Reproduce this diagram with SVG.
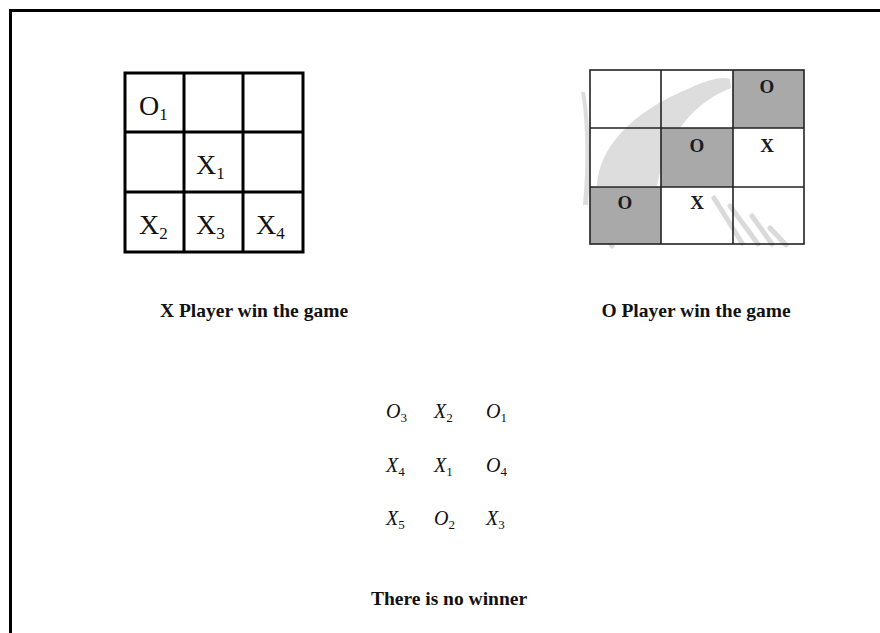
<svg xmlns="http://www.w3.org/2000/svg" width="880" height="633" viewBox="0 0 880 633">
  <style>
    .lbl { font-family: "Liberation Serif", "Times New Roman", serif; font-weight: bold; font-size: 19.5px; fill: #111; text-anchor: middle; }
    .cell { font-family: "Liberation Serif", "Times New Roman", serif; font-size: 28px; fill: #111; }
    .sub1 { font-size: 17px; }
    .ocell { font-family: "Liberation Serif", "Times New Roman", serif; font-weight: bold; font-size: 19px; fill: #1a1a22; text-anchor: middle; }
    .mat { font-family: "Liberation Serif", "Times New Roman", serif; font-style: italic; font-size: 20px; fill: #111; }
    .sub2 { font-size: 13px; font-style: normal; }
    .thick { fill: none; stroke: #000; stroke-width: 3; }
    .thin { fill: none; stroke: #222; stroke-width: 1.6; }
    .shade { fill: #a9a9a9; }
    .wm { fill: #dddddd; }
    .wms { stroke: #dadada; stroke-width: 5; stroke-linecap: round; fill: none; }
  </style>
  <rect x="0" y="0" width="880" height="633" fill="#fff"/>
  <path d="M10.5 633 V10.5 H880" fill="none" stroke="#000" stroke-width="3"/>

  <g id="x-win-board">
    <rect class="thick" x="125" y="73" width="178" height="179"/>
    <line class="thick" x1="184" y1="73" x2="184" y2="252"/>
    <line class="thick" x1="243" y1="73" x2="243" y2="252"/>
    <line class="thick" x1="125" y1="132" x2="303" y2="132"/>
    <line class="thick" x1="125" y1="192" x2="303" y2="192"/>
    <text class="cell" x="139" y="115">O<tspan class="sub1" dy="5">1</tspan></text>
    <text class="cell" x="196" y="174">X<tspan class="sub1" dy="5">1</tspan></text>
    <text class="cell" x="139" y="234">X<tspan class="sub1" dy="5">2</tspan></text>
    <text class="cell" x="196" y="234">X<tspan class="sub1" dy="5">3</tspan></text>
    <text class="cell" x="256" y="234">X<tspan class="sub1" dy="5">4</tspan></text>
  </g>
  <g id="x-win-label">
    <text class="lbl" x="254" y="317">X Player win the game</text>
  </g>

  <g id="o-win-board">
    <path class="wm" d="M581 92 C586 120 587 165 583 205 L588 205 C591 165 590 120 585 92 Z"/>
    <path class="wm" d="M597 186 C598 150 630 112 690 88 C706 81 720 76 730 79 L731 88 C700 100 668 128 657 186 Z"/>
    <path class="wms" d="M714 198 L742 243 M730 206 L758 244 M752 216 L772 244 M770 228 L786 245 M606 236 L612 246"/>
    <rect class="shade" x="733" y="70" width="71" height="58"/>
    <rect class="shade" x="661" y="128" width="72" height="59"/>
    <rect class="shade" x="590" y="187" width="71" height="57"/>
    <rect class="thin" x="590" y="70" width="214" height="174"/>
    <line class="thin" x1="661" y1="70" x2="661" y2="244"/>
    <line class="thin" x1="733" y1="70" x2="733" y2="244"/>
    <line class="thin" x1="590" y1="128" x2="804" y2="128"/>
    <line class="thin" x1="590" y1="187" x2="804" y2="187"/>
    <text class="ocell" x="767" y="93">O</text>
    <text class="ocell" x="697" y="152">O</text>
    <text class="ocell" x="767" y="152">X</text>
    <text class="ocell" x="625" y="209">O</text>
    <text class="ocell" x="697" y="209">X</text>
  </g>
  <g id="o-win-label">
    <text class="lbl" x="696" y="317">O Player win the game</text>
  </g>

  <g id="draw-matrix">
    <text class="mat" x="386" y="418">O<tspan class="sub2" dy="4">3</tspan></text>
    <text class="mat" x="434" y="418">X<tspan class="sub2" dy="4">2</tspan></text>
    <text class="mat" x="486" y="418">O<tspan class="sub2" dy="4">1</tspan></text>
    <text class="mat" x="386" y="472">X<tspan class="sub2" dy="4">4</tspan></text>
    <text class="mat" x="434" y="472">X<tspan class="sub2" dy="4">1</tspan></text>
    <text class="mat" x="486" y="472">O<tspan class="sub2" dy="4">4</tspan></text>
    <text class="mat" x="386" y="525">X<tspan class="sub2" dy="4">5</tspan></text>
    <text class="mat" x="434" y="525">O<tspan class="sub2" dy="4">2</tspan></text>
    <text class="mat" x="486" y="525">X<tspan class="sub2" dy="4">3</tspan></text>
  </g>
  <g id="draw-label">
    <text class="lbl" x="449" y="605">There is no winner</text>
  </g>
</svg>
